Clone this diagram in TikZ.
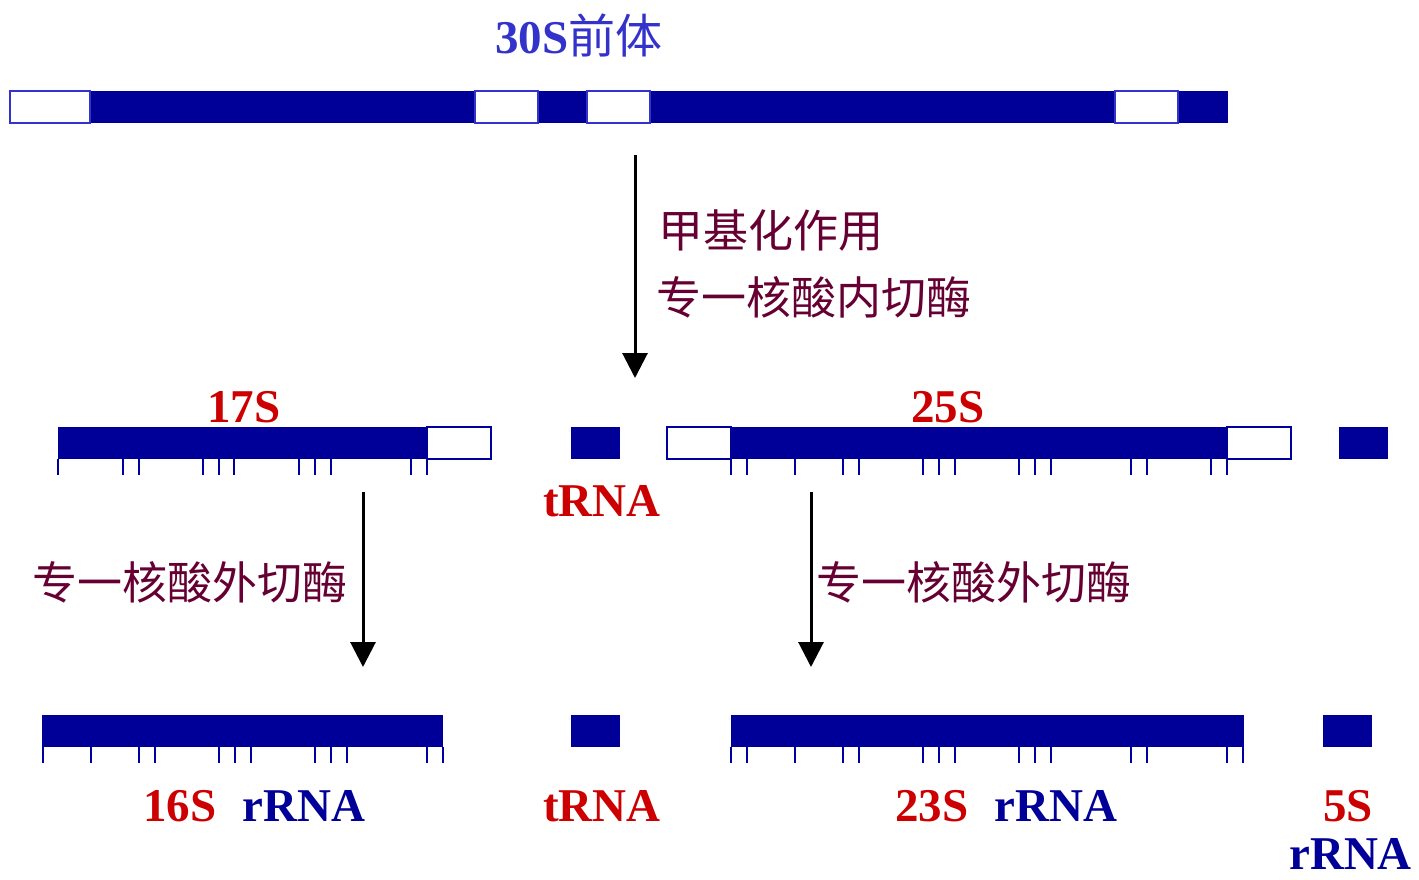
\documentclass[tikz,border=0pt]{standalone}
\usepackage{fontspec}
\setmainfont{Liberation Serif}
\newfontfamily\cjk{Noto Sans CJK SC}
\usetikzlibrary{arrows.meta}
\definecolor{bar}{RGB}{0,0,153}
\definecolor{ttl}{RGB}{51,51,204}
\definecolor{mar}{RGB}{102,0,51}
\definecolor{lab}{RGB}{204,0,0}
\tikzset{
  seg/.style={fill=bar},
  gap/.style={fill=white,draw=ttl,line width=1.5pt},
  gaptwo/.style={fill=white,draw=bar,line width=1.5pt},
  tickln/.style={draw=bar,line width=1.6pt},
  lbl/.style={inner sep=0pt,anchor=base west,font=\fontsize{47}{56}\selectfont\bfseries},
  zh/.style={inner sep=0pt,anchor=base west,text=mar,font=\fontsize{45}{54}\selectfont\cjk},
  arr/.style={line width=3pt,-{Triangle[width=25pt,length=25pt]}}
}
\begin{document}
\begin{tikzpicture}[x=1pt,y=-1pt]
\useasboundingbox (0,0) rectangle (1419,879);
% title
\node[lbl,text=ttl] (title) at (495,53) {30S{\mdseries\cjk 前体}};
% top precursor bar
\fill[seg] (90,91) rectangle (1228,123);
\draw[gap] (10,91) rectangle (90,123);
\draw[gap] (475,91) rectangle (538,123);
\draw[gap] (587,91) rectangle (650,123);
\draw[gap] (1115,91) rectangle (1178,123);
% main arrow
\coordinate (a0) at (635,155);
\coordinate (a1) at (635,378);
\draw[arr] (a0) -- (a1);
\node[zh] (m1) at (658,247) {甲基化作用};
\node[zh] (m2) at (656,314) {专一核酸内切酶};
% row 2
\node[lbl,text=lab] (l17) at (207,422) {17S};
\node[lbl,text=lab] (l25) at (911,422) {25S};
\fill[seg] (58,427) rectangle (427,459);
\draw[gaptwo] (427,427) rectangle (491,459);
\fill[seg] (571,427) rectangle (620,459);
\draw[gaptwo] (667,427) rectangle (731,459);
\fill[seg] (731,427) rectangle (1227,459);
\draw[gaptwo] (1227,427) rectangle (1291,459);
\fill[seg] (1339,427) rectangle (1388,459);
\foreach \x in {58,123,139,203,219,234,299,315,331,411,427,
                731,747,795,843,859,923,939,955,1019,1035,1051,1131,1147,1211,1227}
  \draw[tickln] (\x,459) -- (\x,475);
\node[lbl,text=lab] (t1) at (543,516) {tRNA};
% side arrows
\coordinate (b0) at (363,492);
\coordinate (b1) at (363,667);
\draw[arr] (b0) -- (b1);
\coordinate (c0) at (811,492);
\coordinate (c1) at (811,667);
\draw[arr] (c0) -- (c1);
\node[zh] (e1) at (32,599) {专一核酸外切酶};
\node[zh] (e2) at (816,599) {专一核酸外切酶};
% row 3
\fill[seg] (42,715) rectangle (443,747);
\fill[seg] (571,715) rectangle (620,747);
\fill[seg] (731,715) rectangle (1244,747);
\fill[seg] (1323,715) rectangle (1372,747);
\foreach \x in {43,91,139,155,219,235,251,315,331,347,427,443,
                731,747,795,843,859,923,939,955,1019,1035,1051,1131,1147,1227,1243}
  \draw[tickln] (\x,747) -- (\x,763);
\node[lbl] (r16) at (143,821) {\textcolor{lab}{16S}\hspace{26pt}\textcolor{bar}{rRNA}};
\node[lbl,text=lab] (t2) at (543,821) {tRNA};
\node[lbl] (r23) at (895,821) {\textcolor{lab}{23S}\hspace{26pt}\textcolor{bar}{rRNA}};
\node[lbl,text=lab] (r5) at (1323,821) {5S};
\node[lbl,text=bar] (r5b) at (1289,869) {rRNA};
\end{tikzpicture}
\end{document}
